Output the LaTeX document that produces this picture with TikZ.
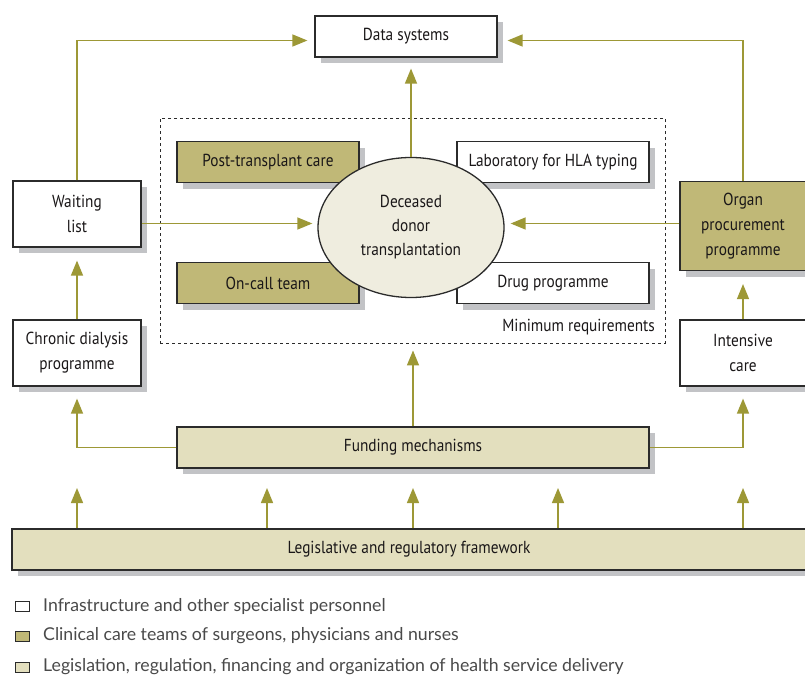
\documentclass[tikz,border=0pt]{standalone}
\usepackage{fontspec}
\setmainfont{PT Sans}[FakeStretch=0.88]
\newfontfamily\legfont{Lato}
\usetikzlibrary{arrows.meta,shapes.geometric}
\definecolor{lnol}{HTML}{9D9836}
\definecolor{clinfill}{HTML}{C0B877}
\definecolor{legfill}{HTML}{E3DFBE}
\definecolor{ellfill}{HTML}{EFEDDF}
\definecolor{shgray}{RGB}{194,195,198}
\definecolor{bord}{HTML}{2B2B2B}
\definecolor{txt}{HTML}{1A1718}
\definecolor{legtxt}{HTML}{4A4A4A}
% #1 style, #2 name, #3 x, #4 y, #5 width, #6 height, #7 text
\newcommand\shadowedbox[7]{%
  \path[fill=shgray] ({#3-#5/2+6},{#4-#6/2+6}) rectangle ({#3+#5/2+6},{#4+#6/2+6});
  \node[#1, minimum width=#5pt, minimum height=#6pt] (#2) at (#3,#4) {#7};}
\begin{document}
\begin{tikzpicture}[x=1pt,y=-1pt,
  box/.style={draw=bord, line width=1.2pt, fill=white, rectangle, inner sep=0pt,
    align=center, font=\fontsize{17.4}{25}\selectfont, text=txt},
  clin/.style={box, fill=clinfill},
  legis/.style={box, fill=legfill},
  conn/.style={draw=lnol, line width=1.4pt, -{Triangle[length=15pt,width=12pt]}},
  dashbox/.style={draw=bord, dashed, line width=0.9pt, rectangle, inner sep=0pt},
  legsq/.style={draw=bord, line width=0.8pt, rectangle, inner sep=0pt, minimum width=14pt, minimum height=10pt},
  legtext/.style={anchor=west, inner sep=0pt, font=\legfont\fontsize{17.7}{20}\selectfont, text=legtxt}
]
\fill[white] (0,0) rectangle (805,677);
\useasboundingbox (0,0) rectangle (805,677);

% dashed minimum requirements frame
\node[dashbox, minimum width=505pt, minimum height=225pt] (mreq) at (412.5,230.5) {};
\node[anchor=east, inner sep=0pt, font=\fontsize{17.4}{20}\selectfont, text=txt] (mreqlabel) at (655,327) {Minimum requirements};

% nodes
\shadowedbox{box}{data}{406}{36.5}{182}{41}{Data systems}
\shadowedbox{box}{wait}{77}{214}{128}{66}{Waiting\\list}
\shadowedbox{box}{chron}{77}{353}{128}{66}{Chronic dialysis\\programme}
\shadowedbox{clin}{organ}{743}{226}{126}{89}{Organ\\procurement\\programme}
\shadowedbox{box}{icare}{743}{353}{126}{66}{Intensive\\care}
\shadowedbox{clin}{post}{268}{162}{182}{41}{Post-transplant care}
\shadowedbox{box}{lab}{553}{162}{192}{41}{Laboratory for HLA typing}
\shadowedbox{clin}{oncall}{268}{283}{182}{41}{On-call team}
\shadowedbox{box}{drug}{553}{283}{192}{41}{Drug programme}
\shadowedbox{legis}{fund}{413}{447.5}{472}{41}{Funding mechanisms}
\shadowedbox{legis}{leg}{409}{549.5}{794}{41}{Legislative and regulatory framework}

\node[ellipse, draw=bord, line width=1.3pt, fill=ellfill, minimum width=186pt, minimum height=140pt,
  inner sep=0pt, align=center, font=\fontsize{17.4}{24}\selectfont, text=txt] (ell) at (411,227.5)
  {Deceased\\donor\\transplantation};

% connectors
\draw[conn, shorten >=11pt] (ell.north) -- (ell.north |- data.south);
\draw[conn, shorten >=7pt] (wait.north) |- ([yshift=-4pt]data.west);
\draw[conn, shorten >=10pt] (organ.north) |- ([yshift=-4pt]data.east);
\draw[conn, shorten >=5pt] ([yshift=4pt]ell.west -| wait.east) -- ([yshift=4pt]ell.west);
\draw[conn, shorten >=6pt] ([yshift=4pt]ell.east -| organ.west) -- ([yshift=4pt]ell.east);
\draw[conn, shorten >=13pt] (chron.north) -- (wait.south);
\draw[conn, shorten >=13pt] (icare.north) -- (organ.south);
\draw[conn, shorten >=12pt] (fund.west) -| (chron.south);
\draw[conn, shorten >=12pt] (fund.east) -| (icare.south);
\draw[conn, shorten >=7pt] (fund.north) -- (fund.north |- mreq.south);

\coordinate (l1) at (77,488);
\coordinate (l2) at (267,488);
\coordinate (l3) at (413,488);
\coordinate (l4) at (558,488);
\coordinate (l5) at (743,488);
\foreach \c in {l1,l2,l3,l4,l5}{
  \draw[conn] (leg.north -| \c) -- (\c);
}

% legend
\node[legsq, fill=white] (sq1) at (22,606) {};
\node[legsq, fill=clinfill] (sq2) at (22,636) {};
\node[legsq, fill=legfill] (sq3) at (22,667) {};
\node[legtext] (t1) at (43,606) {Infrastructure and other specialist personnel};
\node[legtext] (t2) at (43,636) {Clinical care teams of surgeons, physicians and nurses};
\node[legtext] (t3) at (43,667) {Legislation, regulation, financing and organization of health service delivery};
\end{tikzpicture}
\end{document}
